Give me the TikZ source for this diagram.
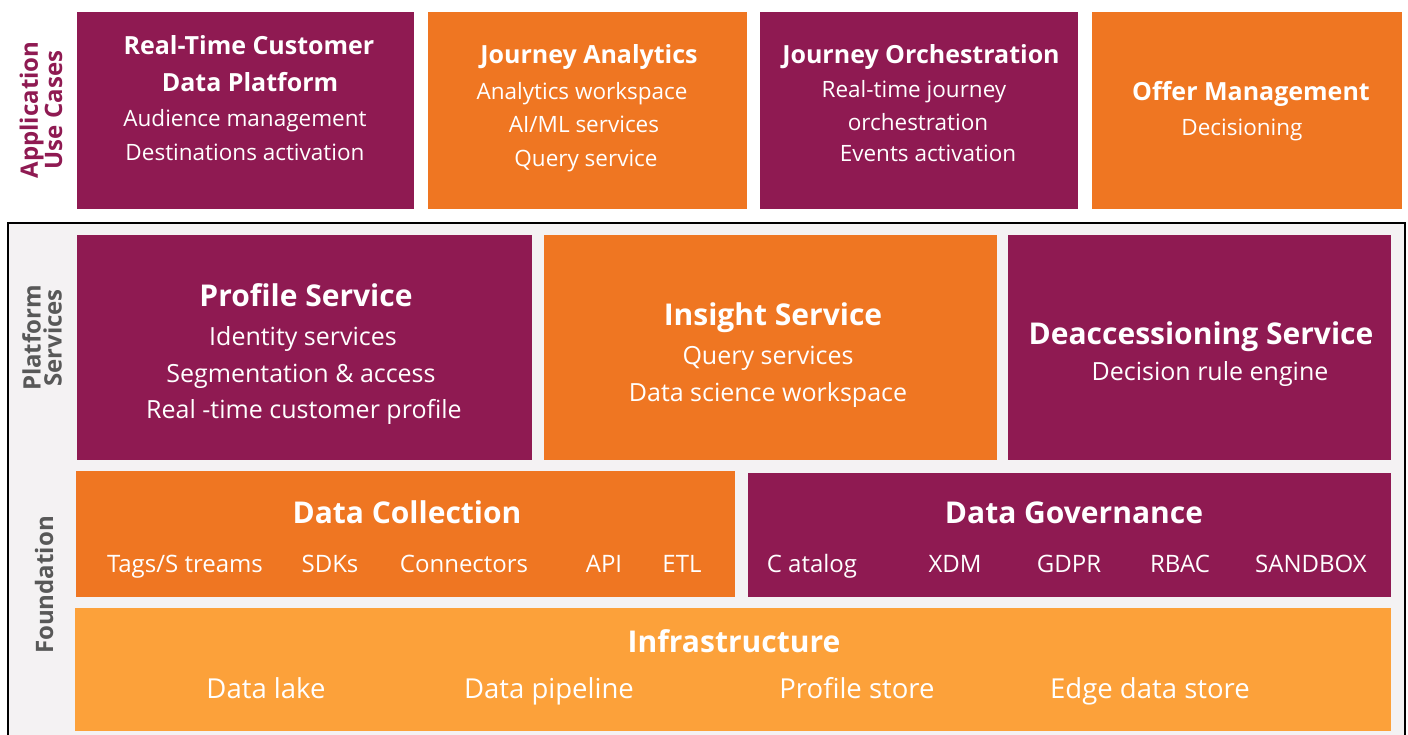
\documentclass[tikz,border=0pt]{standalone}
\usepackage{fontspec}
\setmainfont{Open Sans}
\definecolor{plum}{RGB}{143,26,82}
\definecolor{tangerine}{RGB}{239,118,34}
\definecolor{apricot}{RGB}{252,161,58}
\definecolor{panelbg}{RGB}{244,242,243}
\definecolor{labelgray}{RGB}{88,88,88}
\begin{document}
\begin{tikzpicture}[x=1pt,y=-1pt,
  tile/.style={anchor=north west,inner sep=0pt,outer sep=0pt,draw=none},
  txt/.style={anchor=base,inner sep=0pt,text=white},
  hdA/.style={txt,font=\fontsize{25}{25}\selectfont\bfseries},
  bdA/.style={txt,font=\fontsize{22.5}{22.5}\selectfont},
  hdB/.style={txt,font=\fontsize{30}{30}\selectfont\bfseries},
  bdB/.style={txt,font=\fontsize{25}{25}\selectfont},
  itm/.style={txt,font=\fontsize{24}{24}\selectfont},
  itmL/.style={txt,font=\fontsize{27.5}{27.5}\selectfont},
  side/.style={rotate=90,align=center,inner sep=0pt,font=\fontsize{24}{21}\selectfont\bfseries}]
\useasboundingbox (0,0) rectangle (1408,735);

% framed panel holding platform services and foundation layers
\begin{scope}
  \clip (0,0) rectangle (1408,735);
  \draw[line width=2pt,fill=panelbg] (8,223) rectangle (1405,760);
\end{scope}

% side captions
\node[side,text=plum] (capApp) at (41,110) {Application\\Use Cases};
\node[side,text=labelgray] (capPlat) at (42,338) {Platform\\Services};
\node[side,text=labelgray] (capFound) at (44,585) {Foundation};

% application use cases
\node[tile,fill=plum,minimum width=337,minimum height=197] (cdp) at (77,12) {};
\node[tile,fill=tangerine,minimum width=319,minimum height=197] (ja) at (428,12) {};
\node[tile,fill=plum,minimum width=318,minimum height=197] (jo) at (760,12) {};
\node[tile,fill=tangerine,minimum width=310,minimum height=197] (om) at (1092,12) {};

\node[hdA] (cdpA) at (249,55) {Real-Time Customer};
\node[hdA] (cdpB) at (250,92) {Data Platform};
\node[bdA] (cdpC) at (245,127) {Audience management};
\node[bdA] (cdpD) at (245,161) {Destinations activation};

\node[hdA] (jaA) at (589,64) {Journey Analytics};
\node[bdA] (jaB) at (582,100) {Analytics workspace};
\node[bdA] (jaC) at (584,133) {AI/ML services};
\node[bdA] (jaD) at (586,167) {Query service};

\node[hdA] (joA) at (921,64) {Journey Orchestration};
\node[bdA] (joB) at (914,98) {Real-time journey};
\node[bdA] (joC) at (918,131) {orchestration};
\node[bdA] (joD) at (928,162) {Events activation};

\node[hdA] (omA) at (1251,101) {Offer Management};
\node[bdA] (omB) at (1242,136) {Decisioning};

% platform services
\node[tile,fill=plum,minimum width=455,minimum height=225] (prof) at (77,235) {};
\node[tile,fill=tangerine,minimum width=453,minimum height=225] (ins) at (544,235) {};
\node[tile,fill=plum,minimum width=383,minimum height=225] (deac) at (1008,235) {};

\node[hdB] (profA) at (306,306) {Profile Service};
\node[bdB] (profB) at (303,345) {Identity services};
\node[bdB] (profC) at (301,382) {Segmentation \& access};
\node[bdB] (profD) at (304,418) {Real -time customer profile};

\node[hdB] (insA) at (773,326) {Insight Service};
\node[bdB] (insB) at (768,364) {Query services};
\node[bdB] (insC) at (768,401) {Data science workspace};

\node[hdB] (deacA) at (1201,344) {Deaccessioning Service};
\node[bdB] (deacB) at (1210,380) {Decision rule engine};

% foundation
\node[tile,fill=tangerine,minimum width=659,minimum height=126] (dc) at (76,471) {};
\node[tile,fill=plum,minimum width=643,minimum height=124] (dg) at (748,473) {};
\node[tile,fill=apricot,minimum width=1316,minimum height=123] (inf) at (75,608) {};

\node[hdB] (dcA) at (407,523) {Data Collection};
\node[itm] (dc1) at (185,572) {Tags/S treams};
\node[itm] (dc2) at (330,572) {SDKs};
\node[itm] (dc3) at (464,572) {Connectors};
\node[itm] (dc4) at (604,572) {API};
\node[itm] (dc5) at (682,572) {ETL};

\node[hdB] (dgA) at (1074,523) {Data Governance};
\node[itm] (dg1) at (812,572) {C atalog};
\node[itm] (dg2) at (955,572) {XDM};
\node[itm] (dg3) at (1069,572) {GDPR};
\node[itm] (dg4) at (1180,572) {RBAC};
\node[itm] (dg5) at (1311,572) {SANDBOX};

\node[hdB] (infA) at (734,652) {Infrastructure};
\node[itmL] (inf1) at (266,698) {Data lake};
\node[itmL] (inf2) at (549,698) {Data pipeline};
\node[itmL] (inf3) at (857,698) {Profile store};
\node[itmL] (inf4) at (1150,698) {Edge data store};
\end{tikzpicture}
\end{document}
